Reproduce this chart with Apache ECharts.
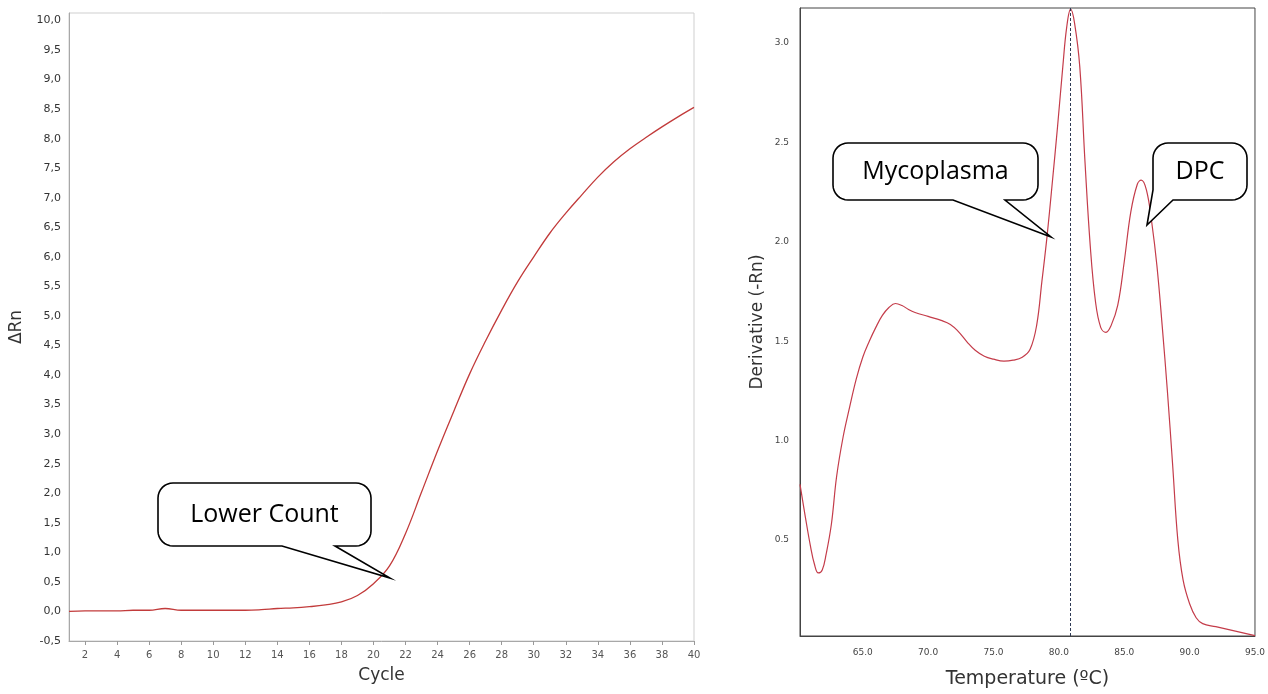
<!DOCTYPE html>
<html>
<head>
<meta charset="utf-8">
<script src="https://cdn.jsdelivr.net/npm/echarts@6/dist/echarts.min.js"></script>
<style>
html,body{margin:0;padding:0;background:#fff;}
#chart{width:1268px;height:694px;}
</style>
</head>
<body>
<div id="chart"></div>
<script>
// ---- Left chart: amplification plot ----
const cycles = [1,2,3,4,5,6,7,8,9,10,11,12,13,14,15,16,17,18,19,20,21,22,23,24,25,26,27,28,29,30,31,32,33,34,35,36,37,38,39,40];
const deltaRn = [0.00,0.01,0.01,0.01,0.02,0.02,0.05,0.02,0.02,0.02,0.02,0.02,0.03,0.05,0.06,0.08,0.11,0.16,0.27,0.47,0.77,1.32,2.02,2.72,3.38,4.02,4.58,5.10,5.58,6.00,6.40,6.74,7.05,7.35,7.61,7.83,8.02,8.20,8.37,8.53];
const leftXTicks = [2,4,6,8,10,12,14,16,18,20,22,24,26,28,30,32,34,36,38,40];
const leftYTicks = [-0.5,0,0.5,1,1.5,2,2.5,3,3.5,4,4.5,5,5.5,6,6.5,7,7.5,8,8.5,9,9.5,10];

// ---- Right chart: melt curve ----
const temperature = [60.2,60.6,61.0,61.3,61.6,61.9,62.2,62.6,63.0,63.5,64.0,64.5,65.0,65.5,66.0,66.5,67.0,67.5,68.0,68.5,69.0,70.0,71.0,71.7,72.3,73.0,73.6,74.3,75.0,75.8,76.5,77.2,77.8,78.3,78.7,79.1,79.5,79.9,80.3,80.6,80.9,81.2,81.6,82.0,82.4,82.8,83.2,83.6,84.0,84.5,85.0,85.5,86.0,86.3,86.7,87.1,87.5,87.9,88.3,88.7,89.1,89.5,90.0,90.5,91.0,92.0,93.0,94.0,95.0];
const derivative = [0.78,0.62,0.47,0.38,0.335,0.35,0.43,0.58,0.82,1.02,1.17,1.31,1.42,1.50,1.57,1.63,1.67,1.69,1.68,1.66,1.645,1.625,1.605,1.585,1.55,1.495,1.455,1.425,1.41,1.40,1.405,1.42,1.46,1.58,1.80,2.03,2.30,2.58,2.88,3.08,3.17,3.10,2.88,2.40,1.98,1.70,1.57,1.545,1.58,1.68,1.90,2.15,2.29,2.31,2.26,2.10,1.88,1.58,1.25,0.88,0.50,0.30,0.18,0.11,0.08,0.065,0.05,0.035,0.02];
const rightXTicks = [65,70,75,80,85,90,95];
const rightYTicks = [0.5,1.0,1.5,2.0,2.5,3.0];
const peakTemp = 80.9;

const callouts = [
  {text:'Lower Count', x:158, y:483, w:213, h:63, tail:[[335,546],[390,578],[282,546]], skipBL:false},
  {text:'Mycoplasma', x:833, y:143, w:205, h:57, tail:[[1005,200],[1051,237],[953,200]], skipBL:false},
  {text:'DPC', x:1153, y:143, w:94, h:57, tail:[[1173,200],[1147,225],[1153,190]], skipBL:true}
];

function arc(cx, cy, r, a0, a1, n) {
  const p = [];
  for (let i = 0; i <= n; i++) {
    const a = a0 + (a1 - a0) * i / n;
    p.push([cx + r * Math.cos(a), cy + r * Math.sin(a)]);
  }
  return p;
}
function bubble(c) {
  const r = 15, x = c.x, y = c.y, w = c.w, h = c.h, P = Math.PI;
  let pts = [];
  pts = pts.concat(arc(x + r, y + r, r, P, 1.5 * P, 8));
  pts = pts.concat(arc(x + w - r, y + r, r, 1.5 * P, 2 * P, 8));
  pts = pts.concat(arc(x + w - r, y + h - r, r, 0, 0.5 * P, 8));
  pts = pts.concat(c.tail);
  if (!c.skipBL) pts = pts.concat(arc(x + r, y + h - r, r, 0.5 * P, P, 8));
  return pts;
}

const graphics = [];
callouts.forEach(function (c) {
  graphics.push({type:'polygon', z:100, shape:{points:bubble(c)}, style:{fill:'#fff', stroke:'#000', lineWidth:1.6}});
  graphics.push({type:'text', z:101, x:c.x + c.w / 2, y:c.y + c.h / 2, style:{text:c.text, fontSize:25, fontFamily:'Open Sans', fill:'#000', align:'center', verticalAlign:'middle'}});
});

const chart = echarts.init(document.getElementById('chart'));
chart.setOption({
  animation:false,
  backgroundColor:'#fff',
  grid:[
    {left:69, width:625, top:13, bottom:53, show:true, borderColor:'#cfcfcf', borderWidth:1},
    {left:800, right:12, top:8, bottom:57, show:true, borderColor:'#444', borderWidth:1}
  ],
  xAxis:[
    {type:'value', gridIndex:0, min:1, max:40,
     name:'Cycle', nameLocation:'middle', nameGap:26,
     nameTextStyle:{fontSize:17, color:'#333', fontFamily:'DejaVu Sans'},
     axisLine:{onZero:false, lineStyle:{color:'#a8a8a8'}},
     axisTick:{show:true, length:4, customValues:leftXTicks, lineStyle:{color:'#999'}},
     axisLabel:{customValues:leftXTicks, fontSize:10, color:'#555', margin:9, fontFamily:'DejaVu Sans'},
     splitLine:{show:false}},
    {type:'value', gridIndex:1, min:60.2, max:95,
     name:'Temperature (ºC)', nameLocation:'middle', nameGap:34,
     nameTextStyle:{fontSize:19, color:'#333', fontFamily:'DejaVu Sans'},
     axisLine:{onZero:false, lineStyle:{color:'#444'}},
     axisTick:{show:false},
     axisLabel:{customValues:rightXTicks, fontSize:9, color:'#444', margin:12, fontFamily:'DejaVu Sans',
       formatter:function(v){return v.toFixed(1);}},
     splitLine:{show:false}},
  ],
  yAxis:[
    {type:'value', gridIndex:0, min:-0.5, max:10.127,
     name:'ΔRn', nameLocation:'middle', nameGap:44,
     nameTextStyle:{fontSize:17, color:'#333', fontFamily:'DejaVu Sans'},
     axisLine:{show:true, onZero:false, lineStyle:{color:'#a8a8a8'}},
     axisTick:{show:false},
     axisLabel:{customValues:leftYTicks, fontSize:11, color:'#333', margin:8, fontFamily:'DejaVu Sans',
       formatter:function(v){return v.toFixed(1).replace('.', ',');}},
     splitLine:{show:false}},
    {type:'value', gridIndex:1, min:0.018, max:3.176,
     name:'Derivative (-Rn)', nameLocation:'middle', nameGap:34,
     nameTextStyle:{fontSize:17, color:'#333', fontFamily:'DejaVu Sans'},
     axisLine:{show:true, onZero:false, lineStyle:{color:'#444'}},
     axisTick:{show:false},
     axisLabel:{customValues:rightYTicks, fontSize:9, color:'#444', margin:11, fontFamily:'DejaVu Sans',
       formatter:function(v){return v.toFixed(1);}},
     splitLine:{show:false}}
  ],
  series:[
    {type:'line', xAxisIndex:0, yAxisIndex:0, smooth:0.4, showSymbol:false,
     data:cycles.map(function(c,i){return [c, deltaRn[i]];}),
     lineStyle:{color:'#c23b3b', width:1.3}},
    {type:'line', xAxisIndex:1, yAxisIndex:1, smooth:0.4, showSymbol:false, clip:true,
     data:temperature.map(function(t,i){return [t, derivative[i]];}),
     lineStyle:{color:'#c43c4a', width:1.2},
     markLine:{silent:true, symbol:'none', label:{show:false},
       lineStyle:{color:'#2e3a55', type:[3,2], width:1},
       data:[{xAxis:peakTemp}]}}
  ],
  graphic:graphics
});
</script>
</body>
</html>
